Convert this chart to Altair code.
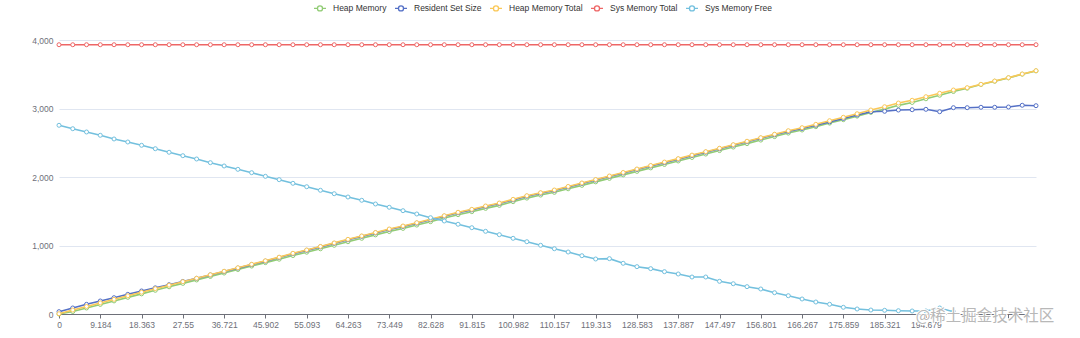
import altair as alt
import pandas as pd

# ---- data ----
x_tick_labels = ["0", "9.184", "18.363", "27.55", "36.721", "45.902", "55.093", "64.263",
                 "73.449", "82.628", "91.815", "100.982", "110.157", "119.313", "128.583",
                 "137.887", "147.497", "156.801", "166.267", "175.859", "185.321", "194.679"]

series_names = ["Heap Memory", "Resident Set Size", "Heap Memory Total", "Sys Memory Total", "Sys Memory Free"]
series_colors = ["#91cc75", "#5470c6", "#fac858", "#ee6666", "#73c0de"]

heap_memory = [0, 36, 88, 140, 191, 243, 294, 346, 397, 447,
               497, 548, 598, 649, 700, 750, 800, 853, 902, 952,
               1003, 1055, 1105, 1155, 1204, 1250, 1298, 1348, 1400, 1450,
               1494, 1542, 1586, 1640, 1692, 1736, 1776, 1828, 1878, 1929,
               1980, 2031, 2082, 2133, 2183, 2234, 2285, 2335, 2386, 2437,
               2487, 2539, 2590, 2641, 2686, 2735, 2787, 2837, 2889, 2943,
               2991, 3046, 3088, 3142, 3194, 3248, 3296, 3350, 3398, 3447,
               3501, 3549]

resident_set_size = [34, 88, 141, 190, 238, 287, 336, 382, 428, 475,
                     520, 570, 620, 670, 721, 772, 824, 880, 929, 980,
                     1031, 1083, 1133, 1183, 1233, 1278, 1326, 1375, 1428, 1477,
                     1520, 1569, 1612, 1666, 1719, 1763, 1802, 1854, 1905, 1955,
                     2007, 2058, 2109, 2160, 2210, 2260, 2312, 2362, 2412, 2464,
                     2514, 2566, 2616, 2665, 2708, 2755, 2805, 2855, 2905, 2953,
                     2959, 2978, 2982, 2988, 2953, 3012, 3012, 3018, 3018, 3022,
                     3047, 3041]

heap_memory_total = [4, 58, 110, 162, 214, 266, 318, 370, 421, 472,
                     522, 573, 624, 675, 726, 777, 830, 886, 935, 986,
                     1038, 1090, 1140, 1190, 1241, 1285, 1333, 1382, 1435, 1485,
                     1528, 1577, 1620, 1674, 1727, 1771, 1810, 1862, 1913, 1963,
                     2015, 2066, 2117, 2168, 2218, 2268, 2320, 2370, 2420, 2472,
                     2522, 2574, 2625, 2676, 2720, 2769, 2822, 2872, 2924, 2978,
                     3026, 3080, 3120, 3172, 3222, 3270, 3304, 3353, 3401, 3450,
                     3504, 3552]

sys_memory_total = [3931, 3931, 3931, 3931, 3931, 3931, 3931, 3931, 3931, 3931,
                    3931, 3931, 3931, 3931, 3931, 3931, 3931, 3931, 3931, 3931,
                    3931, 3931, 3931, 3931, 3931, 3931, 3931, 3931, 3931, 3931,
                    3931, 3931, 3931, 3931, 3931, 3931, 3931, 3931, 3931, 3931,
                    3931, 3931, 3931, 3931, 3931, 3931, 3931, 3931, 3931, 3931,
                    3931, 3931, 3931, 3931, 3931, 3931, 3931, 3931, 3931, 3931,
                    3931, 3931, 3931, 3931, 3931, 3931, 3931, 3931, 3931, 3931,
                    3931, 3931]

sys_memory_free = [2755, 2705, 2657, 2609, 2555, 2511, 2463, 2413, 2361, 2311,
                   2263, 2209, 2161, 2112, 2063, 2010, 1961, 1908, 1858, 1806,
                   1756, 1708, 1660, 1606, 1558, 1508, 1460, 1406, 1358, 1310,
                   1260, 1207, 1158, 1105, 1055, 1003, 953, 905, 851, 803,
                   808, 740, 691, 662, 618, 584, 540, 540, 477, 442,
                   399, 365, 311, 267, 219, 175, 142, 98, 73, 58,
                   54, 48, 44, 44, 88, 34]

watermark_text = ["@稀土掘金技术社区"]

# ---- build table ----
values_by_series = [heap_memory, resident_set_size, heap_memory_total, sys_memory_total, sys_memory_free]
rows = []
for name, vals in zip(series_names, values_by_series):
    for i, v in enumerate(vals):
        rows.append({"idx": i, "series": name, "value": v})
df = pd.DataFrame(rows)

n_points = len(heap_memory)
tick_values = list(range(0, n_points, 3))
label_array = "[" + ",".join("'" + s + "'" for s in x_tick_labels) + "]"
label_expr = f"datum.value / 3 < {len(x_tick_labels)} ? {label_array}[datum.value / 3] : ''"

FONT = "Liberation Sans"
AXIS_GREY = "#6e7079"

x_enc = alt.X("idx:Q",
              scale=alt.Scale(domain=[0, n_points - 1], nice=False, zero=False),
              axis=alt.Axis(values=tick_values, labelExpr=label_expr, title="",
                            grid=False, domainColor=AXIS_GREY, tickColor=AXIS_GREY,
                            tickSize=4, labelPadding=2, labelColor=AXIS_GREY,
                            labelFontSize=8.5, labelFont=FONT, labelOverlap=False,
                            labelFlush=False))
y_enc = alt.Y("value:Q",
              scale=alt.Scale(domain=[0, 4000], nice=False),
              axis=alt.Axis(values=[0, 1000, 2000, 3000, 4000], format=",d", title="",
                            domain=False, ticks=False, tickSize=0, labelPadding=6,
                            gridColor="#e0e6f1", labelColor=AXIS_GREY,
                            labelFontSize=8.5, labelFont=FONT))
legend_symbol = "M-1,0H-0.42M0.42,0H1M0.42,0A0.42,0.42 0 1,1 -0.42,0A0.42,0.42 0 1,1 0.42,0Z"
color_enc = alt.Color("series:N",
                      scale=alt.Scale(domain=series_names, range=series_colors),
                      legend=alt.Legend(title=None, orient="none", direction="horizontal",
                                        legendX=254, legendY=-39,
                                        symbolType=legend_symbol, symbolSize=144,
                                        symbolStrokeWidth=1.3, symbolFillColor="white",
                                        labelFont=FONT, labelFontSize=8.5,
                                        labelColor="#333333", labelOffset=6,
                                        columnPadding=5, padding=0))

layers = []
for name in series_names:
    base = alt.Chart(df).transform_filter(alt.datum.series == name)
    layers.append(base.mark_line(strokeWidth=1.6).encode(x=x_enc, y=y_enc, color=color_enc))
    layers.append(base.mark_point(shape="circle", size=16, fill="white", filled=False,
                                  strokeWidth=1, opacity=1).encode(x=x_enc, y=y_enc, color=color_enc))

wm_df = pd.DataFrame({"t": watermark_text})
wm_halo = alt.Chart(wm_df).mark_text(font="Noto Sans CJK SC", fontSize=15.5, align="center",
                                     baseline="middle", fill="white", stroke="white",
                                     strokeWidth=2).encode(
    x=alt.value(926), y=alt.value(276), text="t:N")
wm = alt.Chart(wm_df).mark_text(font="Noto Sans CJK SC", fontSize=15.5, align="center",
                                baseline="middle", fill="#b8b8b8").encode(
    x=alt.value(926), y=alt.value(276), text="t:N")

chart = alt.layer(*layers, wm_halo, wm).properties(
    width=977, height=274,
    padding={"left": 59, "top": 40, "right": 44, "bottom": 24},
    autosize=alt.AutoSizeParams(type="none"),
    background="white",
).configure_view(stroke="transparent")

chart.save("out.html", embed_options={"renderer": "svg", "actions": False})
